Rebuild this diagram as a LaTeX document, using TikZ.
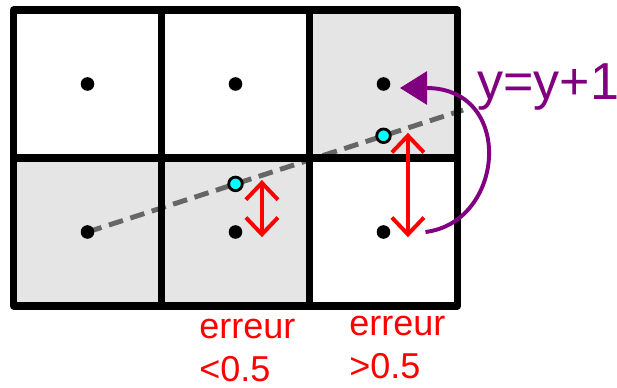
\documentclass[tikz,border=0pt]{standalone}
\usepackage{fontspec}
\setmainfont{Liberation Sans}
\usetikzlibrary{arrows.meta}
\definecolor{cellgray}{HTML}{E5E5E5}
\definecolor{dashgray}{HTML}{666666}
\definecolor{movepurple}{HTML}{800080}
\definecolor{crosscyan}{HTML}{00FFFF}
\tikzset{
  gridline/.style={line width=5pt,line join=round},
  pixel/.style={fill=black},
  midpoint/.style={fill=crosscyan,draw=black,line width=2pt},
  errarrow/.style={red,line width=2.8pt,{Straight Barb[length=0.42cm,width=0.8cm]}-{Straight Barb[length=0.42cm,width=0.8cm]}},
  errtext/.style={red,anchor=base west,inner sep=0pt,font=\fontsize{25.6}{30}\selectfont}
}
\begin{document}
\begin{tikzpicture}[scale=1.0,>=Stealth]
  \useasboundingbox (-0.3375,-2.025) rectangle (15.0875,7.65);
  % shaded cells
  \fill[cellgray] (0,0) rectangle (7.4,3.7);
  \fill[cellgray] (7.4,3.7) rectangle (11.1,7.4);
  % pixel centres
  \foreach \i in {0,1,2} {
    \foreach \j in {0,1} {
      \coordinate (d\i\j) at (1.85+3.7*\i,1.85+3.7*\j);
    }
  }
  % ideal line
  \coordinate (lineend) at (11.24,4.90);
  \draw[dashgray,line width=3.5pt,dash pattern=on 10.5pt off 5.5pt] (d00) -- (lineend);
  % grid
  \draw[gridline] (0,0) rectangle (11.1,7.4);
  \draw[gridline] (0,3.7) -- (11.1,3.7);
  \draw[gridline] (3.7,0) -- (3.7,7.4);
  \draw[gridline] (7.4,0) -- (7.4,7.4);
  \foreach \i in {0,1,2} {
    \foreach \j in {0,1} {
      \fill[pixel] (d\i\j) circle (0.17);
    }
  }
  % crossing points
  \coordinate (m1) at (5.55,3.0525);
  \coordinate (m2) at (9.25,4.255);
  \draw[midpoint] (m1) circle (0.17);
  \draw[midpoint] (m2) circle (0.17);
  % errors
  \coordinate (e1top) at (6.21,3.15);
  \coordinate (e1bot) at (6.21,1.72);
  \coordinate (e2top) at (9.86,4.33);
  \coordinate (e2bot) at (9.86,1.72);
  \draw[errarrow] (e1top) -- (e1bot);
  \draw[errarrow] (e2top) -- (e2bot);
  % step up
  \coordinate (arcstart) at (10.3,1.85);
  \coordinate (arcend) at (9.66,5.45);
  \draw[movepurple,line width=2.8pt,-{Triangle[length=0.68cm,width=0.82cm]}]
    (arcstart) .. controls (12.29,2.1) and (12.54,5.45) .. (arcend);
  \node[movepurple,anchor=base west,inner sep=0pt,font=\fontsize{37}{44}\selectfont] (incr) at (11.59,5.15) {y=y+1};
  \node[errtext] (errlow) at (4.64,-0.8) {erreur};
  \node[errtext] (errlowval) at (4.64,-1.88) {<0.5};
  \node[errtext] (errhigh) at (8.39,-0.725) {erreur};
  \node[errtext] (errhighval) at (8.39,-1.82) {>0.5};
\end{tikzpicture}
\end{document}
